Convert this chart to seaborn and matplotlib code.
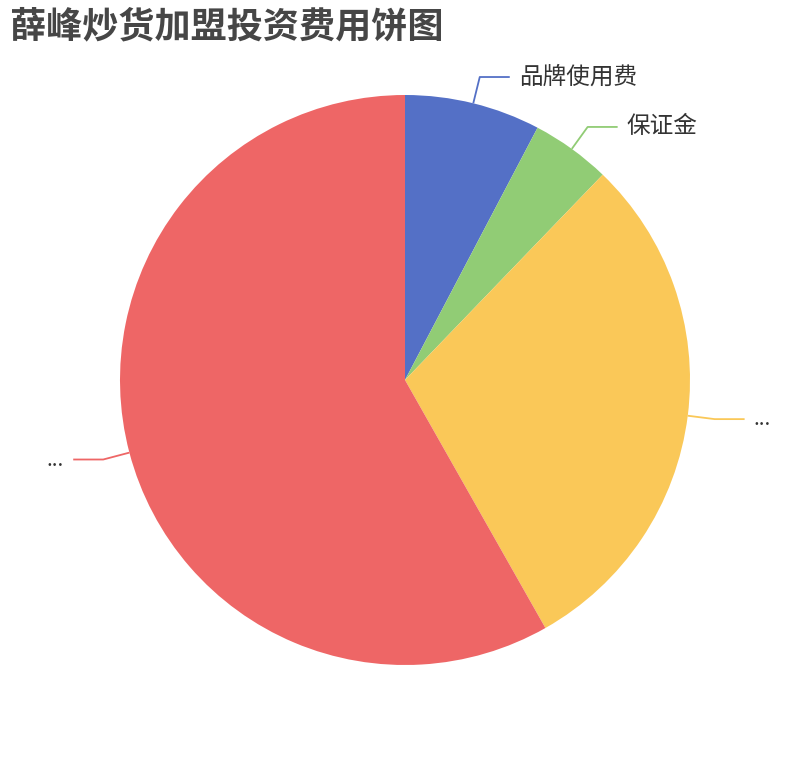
import numpy as np
import matplotlib
matplotlib.use("Agg")
import matplotlib.pyplot as plt
import seaborn as sns

# data (share of the pie, %)
labels = ["品牌使用费", "保证金", "...", "..."]
values = [7.7, 4.5, 29.6, 58.2]
colors = ["#5470c6", "#91cc75", "#fac858", "#ee6666"]
title = "薛峰炒货加盟投资费用饼图"

sns.set_theme(style="white")
plt.rcParams["font.family"] = ["Noto Sans CJK SC", "DejaVu Sans"]

W, H = 810, 760
R = 285.0  # pie radius in px
cx, cy = 405, 380

fig = plt.figure(figsize=(W / 100, H / 100), dpi=100)
ax = fig.add_axes([0, 0, 1, 1])

wedges, _ = ax.pie(values, colors=colors, startangle=90, counterclock=False,
                   radius=1, wedgeprops=dict(linewidth=0))

# pie() resets the limits, so set them afterwards
ax.set_xlim(-cx / R, (W - cx) / R)
ax.set_ylim(-(H - cy) / R, cy / R)
ax.set_aspect("equal")
ax.axis("off")

# leader lines + labels
len1, len2 = 0.095, 30 / R
for w, lab, col in zip(wedges, labels, colors):
    ang = np.deg2rad((w.theta1 + w.theta2) / 2)
    x0, y0 = np.cos(ang), np.sin(ang)
    x1, y1 = (1 + len1) * x0, (1 + len1) * y0
    side = 1 if x0 >= 0 else -1
    x2 = x1 + side * len2
    ax.plot([x0, x1, x2], [y0, y1, y1], color=col, lw=1.3, solid_capstyle="butt")
    ax.text(x2 + side * 9 / R, y1, lab, fontsize=17 if lab != "..." else 15,
            color="#333333", ha="left" if side > 0 else "right", va="center")

fig.text(10 / W, 1 - 27 / H, title, fontsize=26, fontweight="bold",
         color="#464646", ha="left", va="center")

fig.savefig("out.png", dpi=100, facecolor="white")
